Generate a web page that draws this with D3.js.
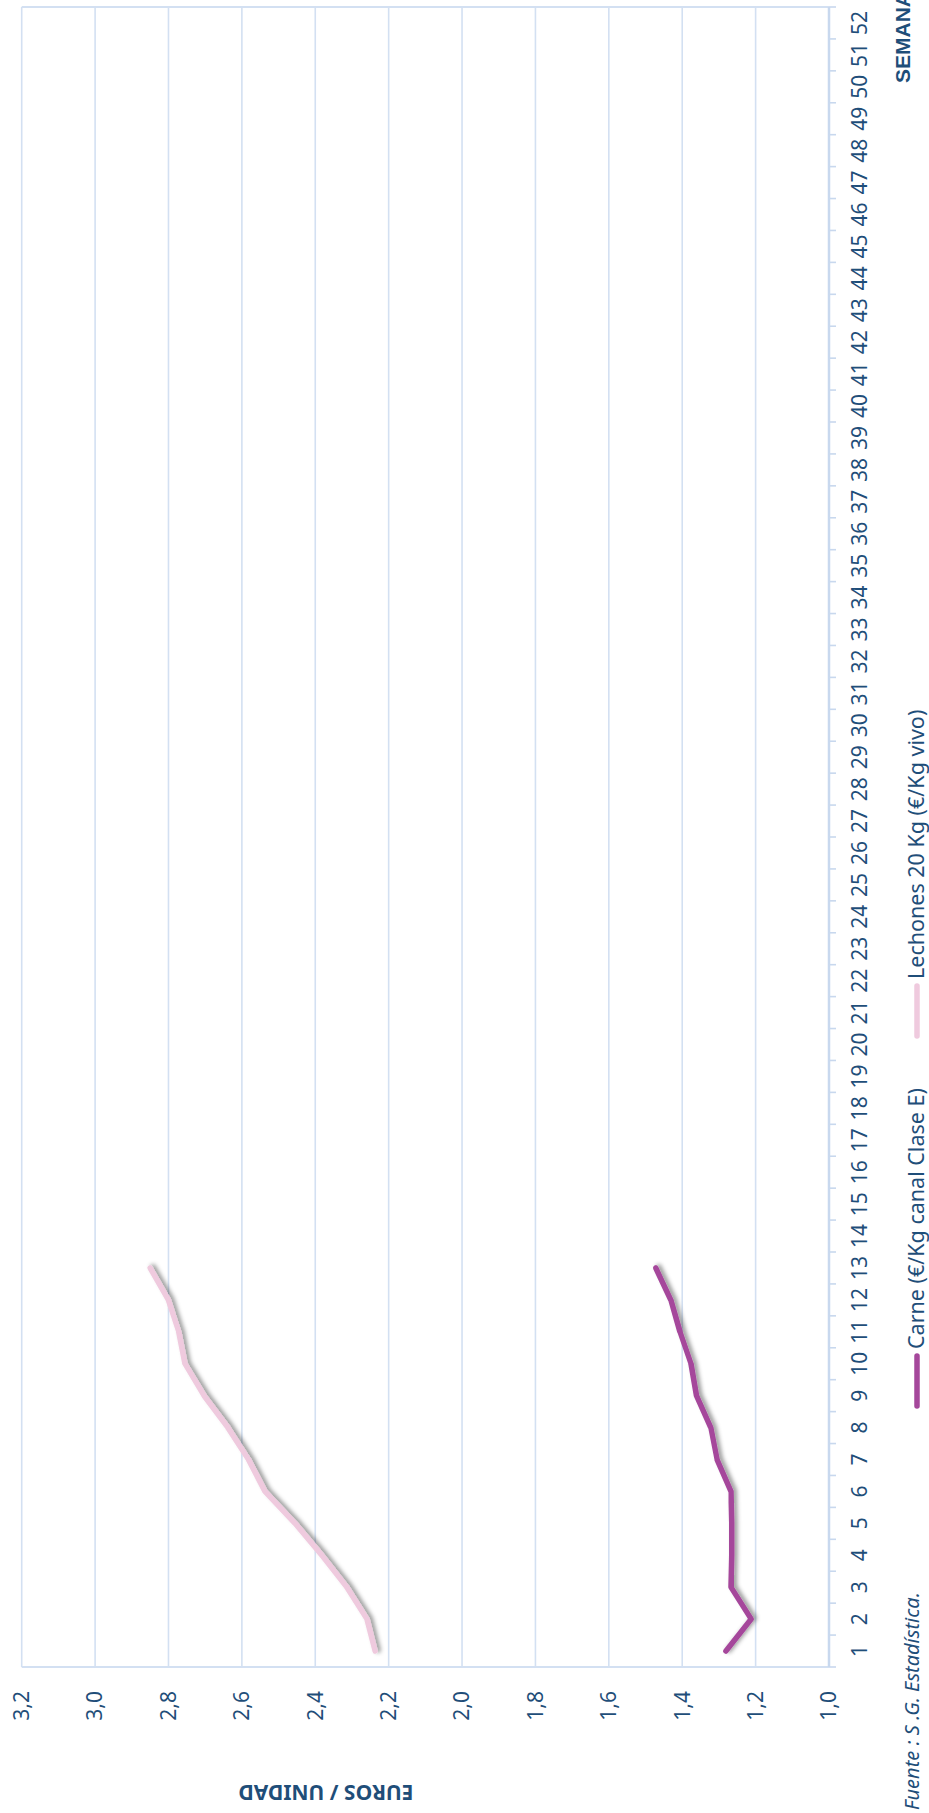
<!DOCTYPE html>
<html>
<head>
<meta charset="utf-8">
<script src="https://cdn.jsdelivr.net/npm/d3@7"></script>
<style>
  body { margin: 0; background: #fff; }
  svg { display: block; }
  text { font-family: "Noto Sans", sans-serif; fill: #1f4e79; }
</style>
</head>
<body>
<div id="chart"></div>
<script>
var semanas = [1,2,3,4,5,6,7,8,9,10,11,12,13,14,15,16,17,18,19,20,21,22,23,24,25,26,
               27,28,29,30,31,32,33,34,35,36,37,38,39,40,41,42,43,44,45,46,47,48,49,50,51,52];
var valores = [1.0, 1.2, 1.4, 1.6, 1.8, 2.0, 2.2, 2.4, 2.6, 2.8, 3.0, 3.2];

var carne    = [1.281, 1.212, 1.267, 1.265, 1.265, 1.267, 1.305, 1.322, 1.361, 1.376, 1.406, 1.431, 1.472];
var lechones = [2.237, 2.259, 2.314, 2.382, 2.455, 2.537, 2.582, 2.638, 2.703, 2.755, 2.772, 2.800, 2.850];

var series = [
  {name: "Carne (€/Kg canal Clase E)", values: carne, color: "#a5479b"},
  {name: "Lechones 20 Kg (€/Kg vivo)", values: lechones, color: "#efcade"}
];

var W = 929, H = 1813;
var svg = d3.select("#chart").append("svg")
            .attr("width", W)
            .attr("height", H);

var defs = svg.append("defs");
defs.append("filter").attr("id", "sombra")
    .attr("x", "-20%").attr("y", "-20%").attr("width", "140%").attr("height", "140%")
  .append("feDropShadow")
    .attr("dx", 1).attr("dy", 3)
    .attr("stdDeviation", 2)
    .attr("flood-color", "#000")
    .attr("flood-opacity", 0.4);

// the chart is drawn landscape and turned a quarter turn to the left
var g = svg.append("g")
           .attr("transform", "translate(0," + H + ") rotate(-90)");

var pLeft = 146, pRight = 1806, pTop = 21.7, pBottom = 829;

var x = d3.scaleBand().domain(semanas).range([pLeft, pRight]);
var y = d3.scaleLinear().domain([1.0, 3.2]).range([pBottom, pTop]);
var bw = x.bandwidth();

var grid = "#d3e0f2";

// gridlines
g.selectAll(".grid")
  .data(valores)
  .enter().append("line")
  .attr("x1", pLeft).attr("x2", pRight)
  .attr("y1", d => y(d)).attr("y2", d => y(d))
  .attr("stroke", grid).attr("stroke-width", 1.6);

// plot sides
g.selectAll(".side")
  .data([pLeft, pRight])
  .enter().append("line")
  .attr("x1", d => d).attr("x2", d => d)
  .attr("y1", pTop).attr("y2", pBottom)
  .attr("stroke", grid).attr("stroke-width", 1.8);

// category axis
g.append("line")
  .attr("x1", pLeft).attr("x2", pRight)
  .attr("y1", pBottom).attr("y2", pBottom)
  .attr("stroke", "#c8d8ee").attr("stroke-width", 2.5);

var bounds = semanas.map(d => x(d)).concat([pRight]);
g.selectAll(".tick")
  .data(bounds)
  .enter().append("line")
  .attr("x1", d => d).attr("x2", d => d)
  .attr("y1", pBottom).attr("y2", pBottom + 7)
  .attr("stroke", "#c8d8ee").attr("stroke-width", 1.6);

g.selectAll(".xlab")
  .data(semanas)
  .enter().append("text")
  .attr("x", d => x(d) + bw / 2)
  .attr("y", 867)
  .attr("text-anchor", "middle")
  .style("font-size", "21px")
  .text(d => d);

// value labels
var fmt = d3.format(".1f");
g.selectAll(".ylab")
  .data(valores)
  .enter().append("text")
  .attr("x", 122)
  .attr("y", d => y(d))
  .attr("dy", "0.35em")
  .attr("text-anchor", "end")
  .style("font-size", "21px")
  .text(d => fmt(d).replace(".", ","));

// lines
var line = d3.line()
  .x((d, i) => x(semanas[i]) + bw / 2)
  .y(d => y(d));

g.selectAll(".serie")
  .data(series)
  .enter().append("path")
  .attr("d", d => line(d.values))
  .attr("fill", "none")
  .attr("stroke", d => d.color)
  .attr("stroke-width", 5.5)
  .attr("stroke-linejoin", "round")
  .attr("stroke-linecap", "round")
  .attr("filter", "url(#sombra)");

// axis titles
g.append("text")
  .attr("transform", "translate(28,326) rotate(-90)")
  .attr("text-anchor", "middle")
  .style("font-size", "21px")
  .style("font-weight", "bold")
  .text("EUROS / UNIDAD");

g.append("text")
  .attr("x", 1730).attr("y", 910)
  .style("font-family", "'Liberation Sans', Arial, sans-serif")
  .style("font-size", "21px")
  .style("font-weight", "bold")
  .text("SEMANAS");

// legend
var legX = [407, 777];
var leg = g.selectAll(".leg")
  .data(series)
  .enter().append("g")
  .attr("transform", (d, i) => "translate(" + legX[i] + ",917)");

leg.append("line")
  .attr("x1", 0).attr("x2", 50)
  .attr("stroke", d => d.color)
  .attr("stroke-width", 5.5)
  .attr("stroke-linecap", "round");

leg.append("text")
  .attr("x", 57)
  .attr("y", 7)
  .style("font-size", "21.5px")
  .text(d => d.name);

g.append("text")
  .attr("x", 3).attr("y", 919)
  .style("font-size", "20px")
  .style("font-style", "italic")
  .text("Fuente : S .G. Estadística.");
</script>
</body>
</html>
